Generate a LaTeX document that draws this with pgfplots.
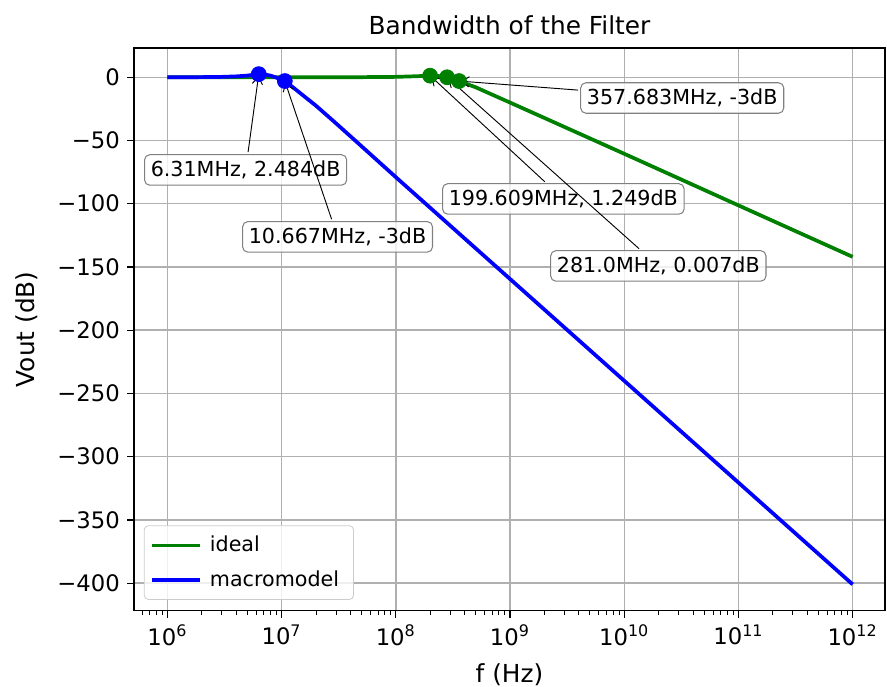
\documentclass[border=0pt]{standalone}
\usepackage{fontspec}
\setmainfont{DejaVu Sans}
\usepackage{pgfplots}
\pgfplotsset{compat=1.18}
\usetikzlibrary{arrows.meta}

\definecolor{mplgreen}{RGB}{0,128,0}
\definecolor{mplblue}{RGB}{0,0,255}
\definecolor{gridgray}{RGB}{176,176,176}

\pgfplotstableread{
f        v
1e6      0.0
1e7      0.01
5e7      0.08
1e8      0.3
1.5e8    0.8
1.996e8  1.249
2.4e8    0.9
2.81e8   0.007
3.2e8    -1.4
3.577e8  -3
4.2e8    -5.4
5e8      -7.9
7e8      -13.8
1e9      -20
1e10     -60.5
1e11     -101.3
1e12     -142
}\ideal

\pgfplotstableread{
f        v
1e6      0.0
2e6      0.1
3e6      0.3
4e6      0.7
5e6      1.3
5.7e6    2.0
6.31e6   2.484
7e6      2.3
8e6      1.3
9e6      -0.3
1.0667e7 -3
1.2e7    -6.5
1.5e7    -13.5
2e7      -22.5
3e7      -36.5
5e7      -54.5
1e8      -79
1e9      -159.5
1e10     -240
1e11     -320.5
1e12     -401
}\macro

\begin{document}
\begin{tikzpicture}[
    ann/.style={draw=black!50, fill=white, fill opacity=0.8, text opacity=1,
        rounded corners=2.5pt, inner sep=3pt, line width=0.5pt,
        font=\fontsize{10}{12}\selectfont},
    arr/.style={-{Straight Barb[length=3.5pt,width=5pt]}, line width=0.45pt,
        shorten <=1pt, shorten >=1pt}]
\begin{axis}[
    at={(0pt,0pt)}, anchor=south west,
    scale only axis, width=363.5pt, height=272.5pt,
    xmode=log, log basis x=10,
    xmin=5.105e5, xmax=1.919e12,
    ymin=-421.9, ymax=23.2,
    xtick={1e6,1e7,1e8,1e9,1e10,1e11,1e12},
    xticklabels={10\textsuperscript{6},10\textsuperscript{7},10\textsuperscript{8},10\textsuperscript{9},10\textsuperscript{10},10\textsuperscript{11},10\textsuperscript{12}},
    minor xtick={6e5,7e5,8e5,9e5,
        2e6,3e6,4e6,5e6,6e6,7e6,8e6,9e6,
        2e7,3e7,4e7,5e7,6e7,7e7,8e7,9e7,
        2e8,3e8,4e8,5e8,6e8,7e8,8e8,9e8,
        2e9,3e9,4e9,5e9,6e9,7e9,8e9,9e9,
        2e10,3e10,4e10,5e10,6e10,7e10,8e10,9e10,
        2e11,3e11,4e11,5e11,6e11,7e11,8e11,9e11},
    ytick={-400,-350,-300,-250,-200,-150,-100,-50,0},
    yticklabels={−400,−350,−300,−250,−200,−150,−100,−50,0},
    grid=major,
    major grid style={color=gridgray, line width=0.7pt},
    axis line style={line width=0.6pt},
    tick align=outside, xtick pos=bottom, ytick pos=left,
    major tick length=3.4pt, minor tick length=1.9pt,
    tick style={black, line width=0.6pt},
    minor tick style={black, line width=0.45pt},
    ticklabel style={font=\fontsize{11}{13}\selectfont},
    title={Bandwidth of the Filter},
    title style={font=\fontsize{12}{14}\selectfont, yshift=-3.4pt},
    xlabel={f (Hz)}, ylabel={Vout (dB)},
    label style={font=\fontsize{12}{14}\selectfont},
    xlabel style={yshift=-2pt},
    ylabel style={yshift=2.5pt},
    legend style={at={(0.013,0.0195)}, anchor=south west,
        font=\fontsize{10}{12}\selectfont, draw=black!20, rounded corners=2pt,
        fill=white, fill opacity=0.8, text opacity=1, row sep=3.5pt,
        inner sep=3pt},
    legend cell align=left,
    legend image code/.code={\draw[#1] (0pt,0pt) -- (23pt,0pt);},
    legend style={nodes={inner xsep=4pt}},
]
\addplot[mplgreen, line width=1.8pt] table[x=f, y=v] {\ideal};
\addlegendentry{ideal}
\addplot[mplblue, line width=1.8pt] table[x=f, y=v] {\macro};
\addlegendentry{macromodel}

\addplot[only marks, mark=*, mark size=3.6pt, mplblue, forget plot] coordinates {
    (6.31e6,2.484) (1.0667e7,-3)};
\addplot[only marks, mark=*, mark size=3.6pt, mplgreen, forget plot] coordinates {
    (1.99609e8,1.249) (2.81e8,0.007) (3.57683e8,-3)};

\node[ann] (a1) at (axis cs:4.84e6,-73.3) {6.31MHz, 2.484dB};
\draw[arr] (a1) -- (axis cs:6.31e6,2.484);
\node[ann] (a2) at (axis cs:3.09e7,-126.2) {10.667MHz, -3dB};
\draw[arr] (a2) -- (axis cs:1.0667e7,-3);
\node[ann] (a4) at (axis cs:2.93e9,-96.2) {199.609MHz, 1.249dB};
\draw[arr] (a4) -- (axis cs:1.99609e8,1.249);
\node[ann] (a5) at (axis cs:1.99e10,-149.2) {281.0MHz, 0.007dB};
\draw[arr] (a5) -- (axis cs:2.81e8,0.007);
\node[ann] (a3) at (axis cs:3.22e10,-16.4) {357.683MHz, -3dB};
\draw[arr] (a3) -- (axis cs:3.57683e8,-3);
\end{axis}
\pgfresetboundingbox
\useasboundingbox (-64.9pt,-36.8pt) rectangle (364.5pt,295.7pt);
\end{tikzpicture}
\end{document}
